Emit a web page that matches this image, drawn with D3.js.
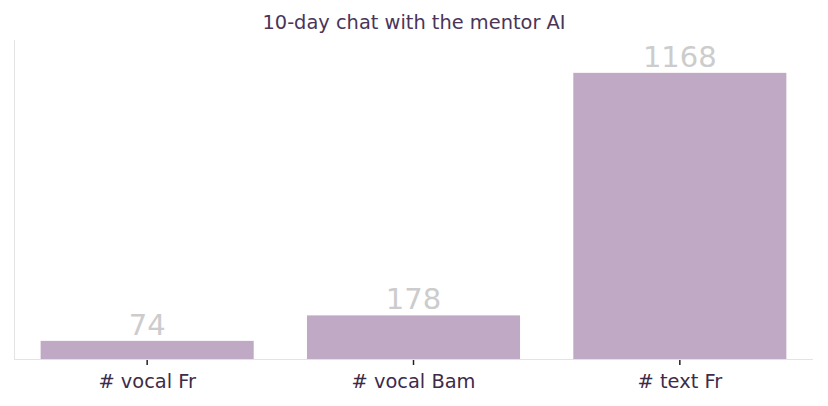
<!DOCTYPE html>
<html>
<head>
<meta charset="utf-8">
<script src="https://cdn.jsdelivr.net/npm/d3@7"></script>
<style>
  html, body { margin: 0; padding: 0; background: #fff; }
  svg { display: block; font-family: "DejaVu Sans", sans-serif; }
</style>
</head>
<body>
<svg id="chart" width="828" height="406"></svg>
<script>
const categories = ["# vocal Fr", "# vocal Bam", "# text Fr"];
const values = [74, 178, 1168];
const title = "10-day chat with the mentor AI";

const W = 828, H = 406;
const margin = { top: 40, right: 15, bottom: 47, left: 14 };
const svg = d3.select("#chart");

const x = d3.scaleBand()
  .domain(categories)
  .range([margin.left, W - margin.right])
  .paddingInner(0.2)
  .paddingOuter(0.1);

const y = d3.scaleLinear()
  .domain([0, 1302])
  .range([H - margin.bottom, margin.top]);

// title
svg.append("text")
  .attr("x", W / 2)
  .attr("y", 29)
  .attr("text-anchor", "middle")
  .attr("font-size", 19.4)
  .attr("fill", "#4a3557")
  .text(title);

// left spine
svg.append("line")
  .attr("x1", margin.left + 0.5).attr("x2", margin.left + 0.5)
  .attr("y1", margin.top).attr("y2", H - margin.bottom)
  .attr("stroke", "#e3e3e3").attr("stroke-width", 1);

// bars
svg.selectAll("rect.bar")
  .data(values)
  .join("rect")
  .attr("class", "bar")
  .attr("x", (d, i) => x(categories[i]))
  .attr("width", x.bandwidth())
  .attr("y", d => y(d))
  .attr("height", d => y(0) - y(d))
  .attr("fill", "#c0a9c4");

// value labels
svg.selectAll("text.val")
  .data(values)
  .join("text")
  .attr("class", "val")
  .attr("x", (d, i) => x(categories[i]) + x.bandwidth() / 2)
  .attr("y", d => y(d) - 6)
  .attr("text-anchor", "middle")
  .attr("font-size", 29)
  .attr("fill", "#cccccc")
  .text(d => d);

// x axis
const xAxis = d3.axisBottom(x).tickSize(6).tickPadding(9);
const gx = svg.append("g")
  .attr("transform", `translate(0,${H - margin.bottom})`)
  .call(xAxis);
gx.select(".domain").remove();
gx.append("line")
  .attr("x1", margin.left).attr("x2", W - margin.right)
  .attr("y1", 0.5).attr("y2", 0.5)
  .attr("stroke", "#e3e3e3").attr("stroke-width", 1);
gx.selectAll(".tick line")
  .attr("stroke", "#222").attr("stroke-width", 1.5);
gx.selectAll(".tick text")
  .attr("font-size", 19.4)
  .attr("font-family", "DejaVu Sans, sans-serif")
  .attr("fill", "#3d2b4a");
</script>
</body>
</html>
